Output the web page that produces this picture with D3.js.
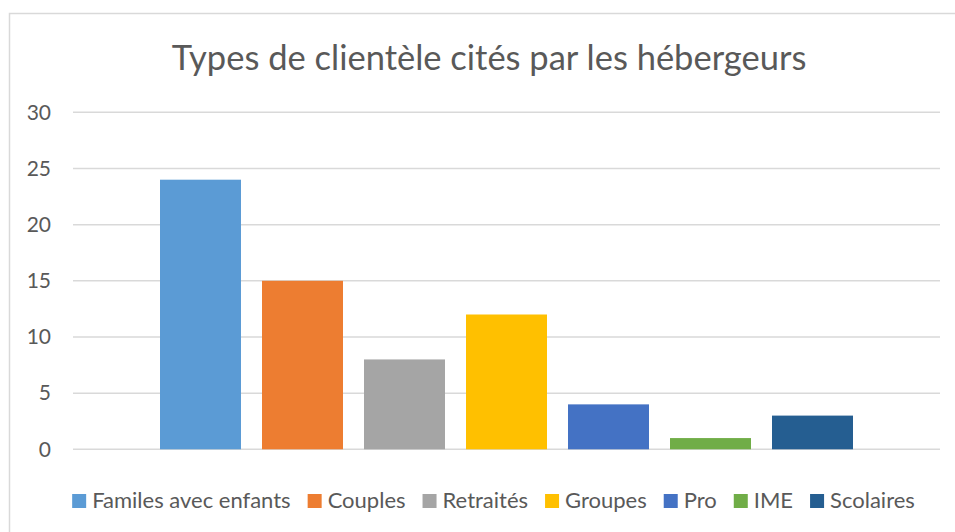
<!DOCTYPE html>
<html>
<head>
<meta charset="utf-8">
<script src="https://cdn.jsdelivr.net/npm/d3@7"></script>
<style>
  body { margin: 0; background: #fff; }
  text { font-family: Lato, "Open Sans", sans-serif; fill: #595959; }
</style>
</head>
<body>
<svg id="chart" width="955" height="532"></svg>
<script>
// data
var categories = ["Familes avec enfants", "Couples", "Retraités", "Groupes", "Pro", "IME", "Scolaires"];
var values = [24, 15, 8, 12, 4, 1, 3];
var colors = ["#5b9bd5", "#ed7d31", "#a5a5a5", "#ffc000", "#4472c4", "#70ad47", "#255e91"];
var yTicks = [0, 5, 10, 15, 20, 25, 30];
var title = "Types de clientèle cités par les hébergeurs";

var svg = d3.select("#chart");

// chart border
svg.append("rect")
    .attr("x", 9.5).attr("y", 13.5)
    .attr("width", 980).attr("height", 540)
    .attr("fill", "#fff")
    .attr("stroke", "#d9d9d9")
    .attr("stroke-width", 1.5);

var plotLeft = 73, plotRight = 940, plotTop = 112.3, plotBottom = 449.3;

var x = d3.scaleBand()
    .domain(categories)
    .range([plotLeft, plotRight])
    .paddingInner(0.206)
    .paddingOuter(0.853);

var y = d3.scaleLinear()
    .domain([0, 30])
    .range([plotBottom, plotTop]);

// gridlines
svg.append("g").selectAll("line").data(yTicks).enter()
    .append("line")
    .attr("x1", plotLeft).attr("x2", plotRight)
    .attr("y1", function(d) { return y(d); })
    .attr("y2", function(d) { return y(d); })
    .attr("stroke", "#d9d9d9")
    .attr("stroke-width", 1.5);

// y axis labels
var yAxis = svg.append("g")
    .attr("transform", "translate(" + (plotLeft - 22) + ",0)")
    .call(d3.axisLeft(y).tickValues(yTicks).tickSize(0).tickPadding(0));
yAxis.select(".domain").remove();
yAxis.selectAll("text")
    .style("font-size", "21px")
    .style("font-family", "Lato, 'Open Sans', sans-serif")
    .attr("fill", "#595959");

// bars
svg.append("g").selectAll("rect").data(categories).enter()
    .append("rect")
    .attr("x", function(d) { return x(d); })
    .attr("width", x.bandwidth())
    .attr("y", function(d, i) { return y(values[i]); })
    .attr("height", function(d, i) { return y(0) - y(values[i]); })
    .attr("fill", function(d, i) { return colors[i]; });

// title
svg.append("text")
    .attr("x", 489).attr("y", 70)
    .attr("text-anchor", "middle")
    .style("font-size", "34.5px")
    .text(title);

// legend
var legend = svg.append("g").attr("class", "legend");
var items = legend.selectAll("g").data(categories).enter().append("g");
items.append("rect")
    .attr("width", 14).attr("height", 14)
    .attr("y", -14)
    .attr("fill", function(d, i) { return colors[i]; });
items.append("text")
    .attr("x", 20)
    .attr("y", 0)
    .style("font-size", "22px")
    .text(function(d) { return d; });

var pos = 0;
items.each(function() {
    var w = d3.select(this).select("text").node().getComputedTextLength();
    d3.select(this).attr("transform", "translate(" + pos + ",0)");
    pos += 20 + w + 17;
});
var legendWidth = pos - 17;
legend.attr("transform", "translate(" + (493.5 - legendWidth / 2) + ",508)");
</script>
</body>
</html>
